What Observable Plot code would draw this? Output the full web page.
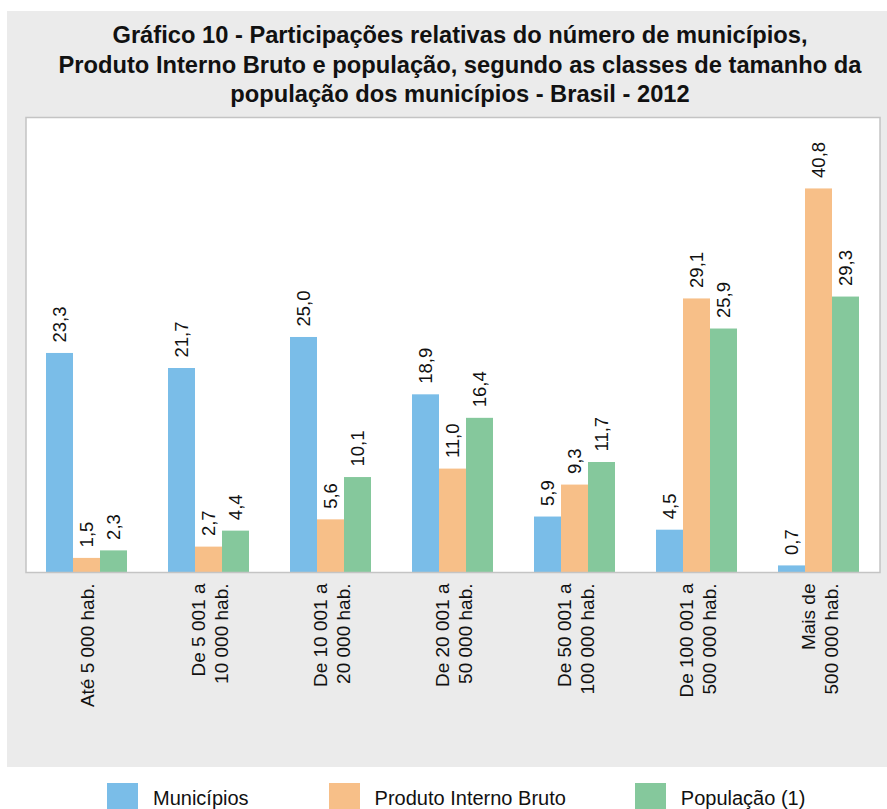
<!DOCTYPE html>
<html>
<head>
<meta charset="utf-8">
<script src="https://cdn.jsdelivr.net/npm/d3@7"></script>
<script src="https://cdn.jsdelivr.net/npm/@observablehq/plot@0.6"></script>
<style>
  html, body { margin: 0; padding: 0; background: #ffffff; }
  body { width: 887px; height: 809px; position: relative; overflow: hidden; font-family: "Liberation Sans", Arial, sans-serif; }
  #panel { position: absolute; left: 7px; top: 11px; width: 880px; height: 756px; background: #ebebeb; }
  #title { height: 99px; box-sizing: border-box; padding-top: 10px; padding-left: 26px; text-align: center;
           font-family: "Liberation Sans", Arial, sans-serif; font-weight: bold;
           font-size: 23.7px; line-height: 29.5px; color: #111; white-space: nowrap; }
  #legend { position: absolute; left: 0; top: 783px; width: 887px; display: flex; justify-content: flex-start; }
  .item { display: flex; align-items: flex-start; font-size: 20px; color: #111; }
  .sw { width: 31px; height: 31px; margin-right: 15px; }
  .lab { line-height: 22px; padding-top: 4px; }
</style>
</head>
<body>
<div id="panel">
  <div id="title">Gráfico 10 - Participações relativas do número de municípios,<br>Produto Interno Bruto e população, segundo as classes de tamanho da<br>população dos municípios - Brasil - 2012</div>
  <div id="chart"></div>
</div>
<div id="legend"></div>
<script>
const categories = [
  "Até 5 000 hab.",
  "De 5 001 a\n10 000 hab.",
  "De 10 001 a\n20 000 hab.",
  "De 20 001 a\n50 000 hab.",
  "De 50 001 a\n100 000 hab.",
  "De 100 001 a\n500 000 hab.",
  "Mais de\n500 000 hab."
];
const seriesNames = ["Municípios", "Produto Interno Bruto", "População (1)"];
const municipios = [23.3, 21.7, 25.0, 18.9, 5.9, 4.5, 0.7];
const pib        = [1.5, 2.7, 5.6, 11.0, 9.3, 29.1, 40.8];
const populacao  = [2.3, 4.4, 10.1, 16.4, 11.7, 25.9, 29.3];
const colors = ["#7abde8", "#f7bf88", "#85c89c"];

const seriesValues = [municipios, pib, populacao];
const data = categories.flatMap((c, i) =>
  seriesNames.map((s, j) => ({cat: c, serie: s, value: seriesValues[j][i]}))
);
const fmt = v => v.toFixed(1).replace(".", ",");

const outer = -20.5; // extend the panel frame over the outer band padding
const chart = Plot.plot({
  width: 880,
  height: 657,
  marginTop: 7,
  marginBottom: 195,
  marginLeft: 16,
  marginRight: 4,
  style: {background: "transparent", fontFamily: "'Liberation Sans', Arial, sans-serif", color: "#111"},
  fx: {domain: categories, paddingInner: 0.333, paddingOuter: 0.1667, label: null, axis: null},
  x: {domain: seriesNames, padding: 0, axis: null},
  y: {domain: [0, 48.4], axis: null},
  color: {domain: seriesNames, range: colors},
  marks: [
    Plot.frame({facet: "super", fill: "white", insetLeft: outer, insetRight: outer}),
    Plot.barY(data, {fx: "cat", x: "serie", y: "value", fill: "serie"}),
    Plot.text(data, {fx: "cat", x: "serie", y: "value", text: d => fmt(d.value),
      rotate: -90, textAnchor: "start", lineAnchor: "middle", dy: -11, fontSize: 18.5, fill: "#111"}),
    Plot.axisFx({anchor: "bottom", tickSize: 0, tickPadding: 11, tickRotate: -90,
      textAnchor: "end", lineAnchor: "middle", lineHeight: 1.2, fontSize: 19, fill: "#111", label: null}),
    Plot.frame({facet: "super", stroke: "#c4c4c4", strokeWidth: 1.5, insetLeft: outer, insetRight: outer})
  ]
});
document.getElementById("chart").appendChild(chart);

const legend = document.getElementById("legend");
const gaps = [107, 80, 69];
seriesNames.forEach((s, j) => {
  const it = document.createElement("div");
  it.className = "item";
  it.style.marginLeft = gaps[j] + "px";
  const sw = document.createElement("div");
  sw.className = "sw";
  sw.style.background = colors[j];
  const lab = document.createElement("div");
  lab.className = "lab";
  lab.textContent = s;
  it.appendChild(sw); it.appendChild(lab);
  legend.appendChild(it);
});
</script>
</body>
</html>
